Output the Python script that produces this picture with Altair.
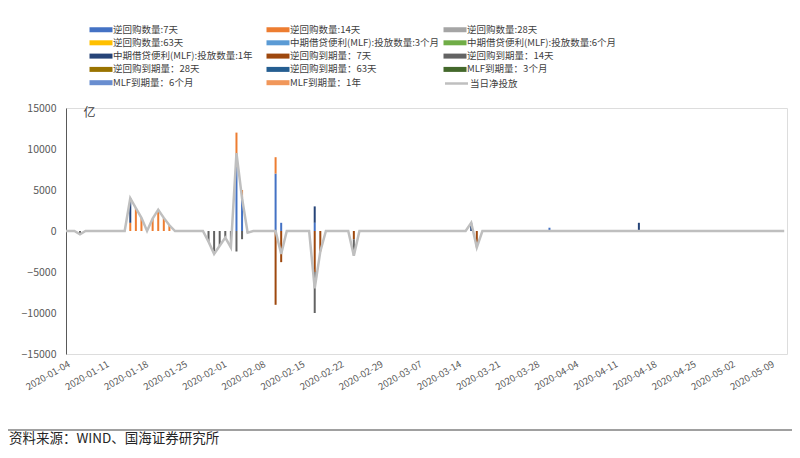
import altair as alt
import pandas as pd

FONT = "Noto Sans CJK SC"

SERIES = [
    "逆回购数量:7天", "逆回购数量:14天", "逆回购数量:28天",
    "逆回购数量:63天", "中期借贷便利(MLF):投放数量:3个月", "中期借贷便利(MLF):投放数量:6个月",
    "中期借贷便利(MLF):投放数量:1年", "逆回购到期量：7天", "逆回购到期量：14天",
    "逆回购到期量：28天", "逆回购到期量：63天", "MLF到期量：3个月",
    "MLF到期量：6个月", "MLF到期量：1年",
]
COLORS = ["#4472C4", "#ED7D31", "#A5A5A5", "#FFC000", "#5B9BD5", "#70AD47",
          "#264478", "#9E480E", "#636363", "#997300", "#255E91", "#43682B",
          "#698ED0", "#F1975A"]
LINE_NAME = "当日净投放"

# values in 亿
RR7 = {"2020-02-03": 9000, "2020-02-04": 4000, "2020-02-10": 7000,
       "2020-02-11": 1000, "2020-02-17": 1000, "2020-03-30": 400}
RR14 = {"2020-01-15": 1000, "2020-01-16": 2800, "2020-01-17": 1600,
        "2020-01-19": 1500, "2020-01-20": 2600, "2020-01-21": 1600,
        "2020-01-22": 700, "2020-02-03": 3000, "2020-02-04": 1000,
        "2020-02-10": 2000}
MLF1Y = {"2020-01-15": 3000, "2020-02-17": 2000, "2020-03-16": 1000,
         "2020-04-15": 1000}
RR7_MAT = {"2020-02-10": -9000, "2020-02-11": -3800, "2020-02-17": -5000,
           "2020-02-18": -2500, "2020-02-24": -1000, "2020-03-17": -2000}
RR14_MAT = {"2020-01-06": -400, "2020-01-29": -1300, "2020-01-30": -2800,
            "2020-01-31": -1800, "2020-02-01": -800, "2020-02-02": -2000,
            "2020-02-03": -2500, "2020-02-04": -1000, "2020-02-05": -200,
            "2020-02-17": -5000, "2020-02-24": -2000}
NET = {"2020-01-06": -400, "2020-01-15": 4000, "2020-01-16": 2800,
       "2020-01-17": 1600, "2020-01-19": 1500, "2020-01-20": 2600,
       "2020-01-21": 1600, "2020-01-22": 700, "2020-01-29": -1300,
       "2020-01-30": -2800, "2020-01-31": -1800, "2020-02-01": -800,
       "2020-02-02": -2000, "2020-02-03": 9500, "2020-02-04": 4000,
       "2020-02-05": -200, "2020-02-11": -2800, "2020-02-17": -7000,
       "2020-02-18": -2500, "2020-02-24": -3000, "2020-03-16": 1000,
       "2020-03-17": -2000}
FIRST_DAY = "2020-01-03"
LAST_DAY = "2020-05-11"

TICKS = ["2020-01-04", "2020-01-11", "2020-01-18", "2020-01-25", "2020-02-01",
         "2020-02-08", "2020-02-15", "2020-02-22", "2020-02-29", "2020-03-07",
         "2020-03-14", "2020-03-21", "2020-03-28", "2020-04-04", "2020-04-11",
         "2020-04-18", "2020-04-25", "2020-05-02", "2020-05-09"]
Y_TICKS = [15000, 10000, 5000, 0, -5000, -10000, -15000]
FOOT = "资料来源：WIND、国海证券研究所"

series_data = [RR7, RR14, {}, {}, {}, {}, MLF1Y, RR7_MAT, RR14_MAT, {}, {}, {}, {}, {}]
rows = []
for i, (name, d) in enumerate(zip(SERIES, series_data)):
    for k, v in d.items():
        rows.append({"date": k, "series": name, "idx": i, "value": v})
bar_df = pd.DataFrame(rows)

days = [d.strftime("%Y-%m-%d") for d in pd.date_range(FIRST_DAY, LAST_DAY)]
line_df = pd.DataFrame({"date": days, "net": [NET.get(d, 0) for d in days],
                        "name": LINE_NAME})


def ms(s):
    return int(pd.Timestamp(s, tz="UTC").timestamp() * 1000)


x_scale = alt.Scale(type="utc", domain=[ms("2020-01-03T12:00"), ms("2020-05-11T12:00")],
                    padding=0, nice=False)
x_axis = alt.Axis(values=[ms(t) for t in TICKS], format="%Y-%m-%d", labelAngle=-30,
                  labelAlign="right", labelBaseline="middle", labelFontSize=9.5,
                  labelColor="#595959", labelPadding=9, domain=False, ticks=False,
                  grid=False, labelOverlap=False, labelFlush=False, labelBound=False,
                  labelFont=FONT)
y_scale = alt.Scale(domain=[-15000, 15000], nice=False, padding=0)
y_axis = alt.Axis(values=Y_TICKS, title="亿", titleAngle=0, titleX=23, titleY=4,
                  titleAlign="center", titleBaseline="middle", titleFontSize=12,
                  titleFontWeight="normal", titleColor="#404040", titleFont=FONT,
                  labelFontSize=10.5, labelColor="#595959", labelPadding=10,
                  labelFont=FONT, tickSize=0, domainColor="#595959", grid=False,
                  format="d")

RECT = "M-2.3,-0.5L2.3,-0.5L2.3,0.5L-2.3,0.5Z"
STROKE = "M-2.3,0L2.3,0"

legend_bars = alt.Legend(orient="none", legendX=23, legendY=-83.5, columns=3,
                         direction="horizontal", title=None,
                         symbolType=RECT, symbolSize=100,
                         symbolStrokeWidth=0, labelFontSize=9.5, labelColor="#404040",
                         labelFont=FONT, labelOffset=7, columnPadding=3, rowPadding=3.3,
                         gridAlign="all", labelLimit=300, padding=0, symbolOffset=7)
legend_line = alt.Legend(orient="none", legendX=377, legendY=-31, title=None,
                         symbolType=STROKE, symbolSize=100, symbolStrokeWidth=2.5,
                         labelFontSize=9.5, labelColor="#404040", labelFont=FONT,
                         labelOffset=7, padding=0, symbolOffset=7)

bars = alt.Chart(bar_df).mark_bar(size=2).encode(
    x=alt.X("date:T", scale=x_scale, axis=x_axis, title=None),
    y=alt.Y("value:Q", scale=y_scale, axis=y_axis, stack="zero"),
    color=alt.Color("series:N", scale=alt.Scale(domain=SERIES, range=COLORS),
                    legend=legend_bars),
    order=alt.Order("idx:Q"),
)

line = alt.Chart(line_df).mark_line(strokeWidth=2.5, clip=True).encode(
    x=alt.X("date:T", scale=x_scale, axis=x_axis, title=None),
    y=alt.Y("net:Q", scale=y_scale, axis=y_axis),
    color=alt.Color("name:N", scale=alt.Scale(domain=[LINE_NAME], range=["#BFBFBF"]),
                    legend=legend_line),
)

rule = alt.Chart(pd.DataFrame({"a": [0]})).mark_rule(color="#808080", strokeWidth=1.5).encode(
    x=alt.value(-58), x2=alt.value(726), y=alt.value(322))

foot = alt.Chart(pd.DataFrame({"t": [FOOT]})).mark_text(
    align="left", baseline="middle", fontSize=13.5, color="#262626", font=FONT
).encode(text="t:N", x=alt.value(-57), y=alt.value(331))

chart = alt.layer(bars, line, rule, foot).resolve_scale(color="independent").properties(
    width=721, height=246,
    padding={"left": 58, "top": 100, "right": 5, "bottom": 93},
    autosize=alt.AutoSizeParams(type="none"),
).configure_view(stroke=None).configure(font=FONT)

chart.save("out.html", embed_options={"renderer": "svg", "actions": False})
